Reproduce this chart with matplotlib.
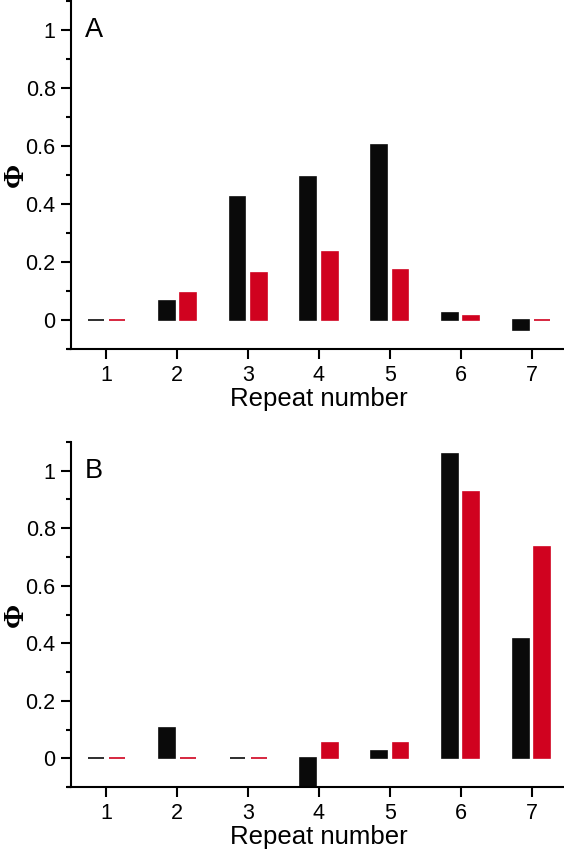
import numpy as np
import matplotlib
matplotlib.use("Agg")
import matplotlib.pyplot as plt
from matplotlib.ticker import MultipleLocator

repeats = [1, 2, 3, 4, 5, 6, 7]
a_black = [0.0, 0.064, 0.424, 0.493, 0.603, 0.023, -0.033]
a_red = [0.0, 0.092, 0.163, 0.233, 0.173, 0.013, 0.0]
b_black = [0.0, 0.105, 0.0, -0.12, 0.024, 1.057, 0.415]
b_red = [0.0, 0.0, 0.0, 0.053, 0.053, 0.926, 0.735]
yticks = [0, 0.2, 0.4, 0.6, 0.8, 1]
ytick_labels = ["0", "0.2", "0.4", "0.6", "0.8", "1"]
panel_labels = ["A", "B"]

BLACK = "#0a0a0a"
RED = "#d0021f"

plt.rcParams['font.family'] = ['Liberation Sans', 'DejaVu Sans']

fig = plt.figure(figsize=(5.64, 8.49), dpi=100)
W, H = 564, 849
# axes boxes in pixels: left, top, right, bottom
boxes = [(71, 1, 567, 349), (71, 442, 567, 787)]

data = [(a_black, a_red), (b_black, b_red)]
x = np.array(repeats, dtype=float)
for (l, t, r, b), (blk, red), lab in zip(boxes, data, panel_labels):
    ax = fig.add_axes([l / W, 1 - b / H, (r - l) / W, (b - t) / H])
    ax.bar(x - 0.15, blk, width=0.225, color=BLACK, edgecolor=BLACK, linewidth=1.2)
    ax.bar(x + 0.15, red, width=0.225, color=RED, edgecolor=RED, linewidth=1.2)
    ax.set_xlim(0.5, 7.5)
    ax.set_ylim(-0.1, 1.1)
    ax.set_xticks(repeats)
    ax.set_yticks(yticks)
    ax.set_yticklabels(ytick_labels)
    ax.yaxis.set_minor_locator(MultipleLocator(0.1))
    for s in ("top", "right"):
        ax.spines[s].set_visible(False)
    for s in ("left", "bottom"):
        ax.spines[s].set_linewidth(1.5)
    ax.plot([-0.009, 0.0], [0, 0], transform=ax.transAxes, color="black",
            lw=1.5, clip_on=False, solid_capstyle="butt")
    ax.tick_params(axis="both", which="major", direction="out", length=7.5, width=1.5,
                   labelsize=15.5)
    ax.tick_params(axis="x", which="major", pad=4)
    ax.tick_params(axis="y", which="major", pad=3.5)
    ax.tick_params(axis="y", which="minor", direction="out", length=3.8, width=1.5)
    ax.tick_params(axis="x", which="minor", bottom=False)
    ax.set_xlabel("Repeat number", fontsize=18.5, labelpad=1)
    ax.set_ylabel("Φ", fontsize=21, family=["Liberation Serif", "DejaVu Serif"],
                  fontweight="bold", va="center")
    ax.yaxis.set_label_coords(-0.113, 0.5)
    ax.text(0.028, 0.955, lab, transform=ax.transAxes,
            fontsize=19.5, ha="left", va="top")

fig.savefig("out.png", dpi=100)
